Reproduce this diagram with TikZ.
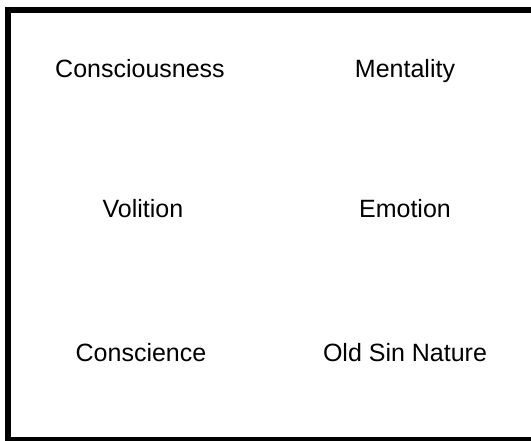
\documentclass[tikz,border=0pt]{standalone}
\usepackage{fontspec}
\setmainfont{Liberation Sans}
\usepackage{tikz}
\usetikzlibrary{positioning}
\tikzstyle{termtext} = [inner sep=0pt, anchor=base, font=\fontsize{25}{30}\selectfont]
\tikzstyle{frame} = [draw, line width=6pt, black]

\begin{document}
\begin{tikzpicture}[x=1pt, y=-1pt]
    \useasboundingbox (0,0) rectangle (531,441);
    \clip (0,0) rectangle (531,441);
    \draw [frame] (8,10) rectangle (540,440);

    \node (conscious) [termtext] at (140,78) {Consciousness};
    \node (mental) [termtext] at (405,78) {Mentality};
    \node (volition) [termtext] at (143,218) {Volition};
    \node (emotion) [termtext] at (405,218) {Emotion};
    \node (conscience) [termtext] at (141,361) {Conscience};
    \node (oldsin) [termtext] at (405,361) {Old Sin Nature};
\end{tikzpicture}
\end{document}
